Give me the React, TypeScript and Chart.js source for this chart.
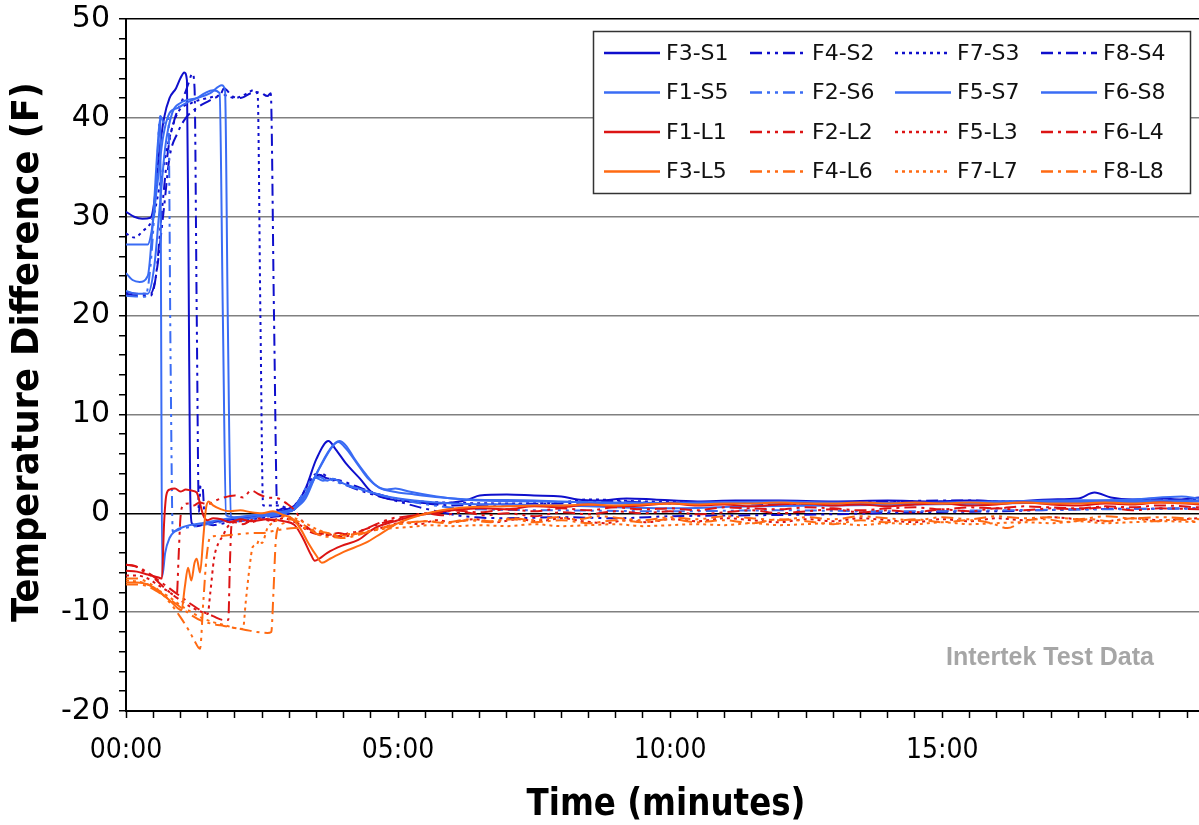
import { useEffect, useRef } from 'react';
import { Chart, registerables } from 'chart.js';

Chart.register(...registerables);

// Each series: time in minutes, temperature difference in °F, as [t, v, t, v, ...]
const F3_S1 = [0, 30.5, 0.15, 30.0, 0.3, 29.8, 0.45, 29.9, 0.52, 31.5, 0.6, 36, 0.7, 40, 0.8, 42, 0.92, 43, 1.0, 44, 1.07, 44.6, 1.12, 43.8, 1.15, 25, 1.18, 2, 1.21, -1.0, 1.3, -1.3, 1.5, -1.0, 1.7, -0.8, 2.0, -0.6, 2.5, -0.2, 2.9, 0.3, 3.1, 0.8, 3.3, 2.5, 3.5, 5.5, 3.72, 7.3, 3.85, 6.5, 4.05, 5.0, 4.3, 3.5, 4.5, 2.2, 4.8, 1.5, 5.2, 1.2, 5.6, 1.0, 6.0, 1.1, 6.3, 1.4, 6.5, 1.8, 7.0, 1.9, 7.5, 1.8, 8.0, 1.7, 8.3, 1.4, 8.7, 1.3, 9.2, 1.5, 9.7, 1.4, 10.5, 1.2, 11.2, 1.3, 12.0, 1.3, 13.0, 1.2, 14.0, 1.3, 14.8, 1.2, 15.5, 1.3, 16.2, 1.2, 17.0, 1.4, 17.5, 1.5, 17.8, 2.1, 18.1, 1.6, 18.5, 1.4, 19.0, 1.5, 19.4, 1.4, 19.72, 1.6];
const F4_S2 = [0, 22.2, 0.2, 22.0, 0.45, 22.0, 0.55, 24, 0.65, 30, 0.78, 37, 0.9, 40, 1.05, 42, 1.15, 43.5, 1.22, 44.5, 1.26, 43, 1.3, 20, 1.34, 0, 1.37, 2.8, 1.41, 2.5, 1.45, -0.8, 1.6, -1.2, 1.8, -1.0, 2.2, -0.7, 2.6, -0.4, 3.0, 0, 3.25, 1.5, 3.45, 3.5, 3.55, 3.9, 3.7, 3.5, 3.9, 3.2, 4.2, 2.5, 4.6, 1.8, 5.0, 1.2, 5.4, 0.6, 5.8, 0.1, 6.2, -0.3, 7.0, -0.5, 8.0, -0.4, 9.0, -0.5, 10.0, -0.3, 11.5, -0.2, 13.0, -0.1, 14.5, 0.1, 16.0, 0.2, 17.5, 0.4, 19.72, 0.5];
const F7_S3 = [0, 28.3, 0.15, 27.9, 0.3, 28.5, 0.5, 30, 0.65, 34, 0.8, 38, 0.95, 40.5, 1.2, 41.5, 1.5, 42, 1.8, 42.3, 2.0, 42.0, 2.2, 42.4, 2.35, 42.8, 2.42, 42.3, 2.47, 20, 2.52, 0.8, 2.8, 0.8, 3.0, 0.5, 3.2, 1.5, 3.35, 3.0, 3.5, 4.0, 3.65, 3.6, 3.85, 3.4, 4.0, 3.0, 4.3, 2.5, 4.7, 1.8, 5.2, 1.3, 5.8, 1.1, 7.0, 1.0, 8.0, 1.1, 8.5, 1.4, 9.5, 1.2, 11.0, 1.1, 12.5, 1.0, 14.0, 1.1, 16.0, 1.2, 18.0, 1.1, 19.72, 1.3];
const F8_S4 = [0, 22.4, 0.2, 22.2, 0.45, 22.2, 0.55, 24, 0.7, 31, 0.8, 36, 0.95, 38.5, 1.1, 40, 1.3, 41, 1.55, 41.8, 1.75, 42.5, 1.8, 43.0, 1.95, 42.2, 2.1, 42.0, 2.3, 42.5, 2.45, 42.6, 2.6, 42.2, 2.66, 42.5, 2.72, 20, 2.78, 0.3, 2.9, 0.5, 3.0, 0.3, 3.2, 1.0, 3.35, 2.5, 3.5, 3.8, 3.6, 4.0, 3.75, 3.5, 3.95, 3.3, 4.2, 2.8, 4.6, 2.0, 5.0, 1.4, 5.5, 1.0, 6.0, 0.8, 7.0, 0.9, 8.0, 1.0, 9.0, 1.2, 10.0, 1.0, 11.0, 1.1, 12.0, 0.9, 13.0, 1.0, 14.0, 1.2, 15.5, 1.3, 16.5, 1.1, 18.0, 1.2, 19.72, 1.4];
const F1_S5 = [0, 24.3, 0.12, 23.6, 0.25, 23.4, 0.4, 24, 0.5, 30, 0.58, 37, 0.63, 40, 0.645, 20, 0.665, -6.4, 0.72, -4, 0.8, -2.5, 0.9, -1.8, 1.1, -1.3, 1.4, -1.0, 1.8, -0.6, 2.2, -0.3, 2.6, 0, 2.9, 0.2, 3.1, 0.5, 3.3, 1.5, 3.5, 4.0, 3.75, 6.5, 3.92, 7.3, 4.05, 6.8, 4.2, 5.5, 4.4, 4.0, 4.6, 2.8, 4.8, 2.4, 4.95, 2.5, 5.2, 2.2, 5.6, 1.8, 6.0, 1.5, 6.5, 1.3, 7.5, 1.2, 9.0, 1.1, 11.0, 1.0, 13.0, 1.1, 15.0, 1.0, 17.0, 1.2, 19.72, 1.3];
const F2_S6 = [0, 22.0, 0.35, 21.9, 0.45, 25, 0.55, 33, 0.63, 40.2, 0.7, 39.5, 0.78, 40, 0.82, 15, 0.86, -1.9, 1.0, -1.6, 1.3, -1.3, 1.6, -1.0, 2.0, -0.8, 2.4, -0.5, 2.8, -0.2, 3.0, 0, 3.2, 1.5, 3.35, 3.0, 3.48, 3.6, 3.62, 3.3, 3.75, 3.4, 3.95, 3.0, 4.3, 2.4, 4.7, 1.8, 5.2, 1.2, 5.8, 0.7, 6.5, 0.4, 8.0, 0.3, 10.0, 0.2, 12.0, 0.3, 14.0, 0.2, 16.0, 0.3, 18.0, 0.4, 19.72, 0.5];
const F5_S7 = [0, 27.2, 0.4, 27.2, 0.47, 28.5, 0.57, 33, 0.68, 38, 0.8, 40.5, 0.95, 41, 1.1, 41.5, 1.3, 42, 1.45, 42.5, 1.6, 42.8, 1.72, 42.5, 1.78, 20, 1.84, -0.2, 2.0, -0.4, 2.4, -0.2, 2.8, 0, 3.0, 0.3, 3.2, 1.2, 3.35, 2.5, 3.45, 3.5, 3.55, 3.7, 3.7, 3.3, 3.8, 3.5, 4.0, 3.0, 4.4, 2.3, 4.8, 1.7, 5.3, 1.3, 6.0, 1.0, 7.0, 0.9, 8.0, 0.8, 9.0, 0.6, 10.0, 0.5, 11.5, 0.7, 13.0, 0.8, 14.5, 0.9, 16.0, 1.0, 17.5, 1.1, 19.72, 1.2];
const F6_S8 = [0, 22.5, 0.2, 22.2, 0.4, 22.2, 0.52, 25, 0.62, 31, 0.72, 37, 0.85, 40.5, 1.0, 41.5, 1.3, 42, 1.55, 42.5, 1.76, 43.3, 1.82, 42.8, 1.87, 20, 1.93, -0.3, 2.1, -0.6, 2.5, -0.3, 2.9, 0, 3.1, 0.4, 3.3, 1.8, 3.55, 4.5, 3.8, 6.8, 3.9, 7.2, 4.05, 6.5, 4.25, 5.0, 4.45, 3.5, 4.65, 2.6, 4.9, 2.2, 5.3, 1.9, 5.8, 1.6, 6.3, 1.4, 7.5, 1.3, 9.0, 1.0, 10.5, 1.1, 12.0, 1.2, 13.5, 1.0, 15.0, 1.1, 17.0, 1.3, 18.5, 1.4, 19.4, 1.7, 19.72, 1.5];

const F1_L1 = [0, -5.8, 0.2, -5.9, 0.4, -6.2, 0.6, -6.5, 0.66, -6.6, 0.7, -1, 0.74, 1.8, 0.8, 2.4, 0.9, 2.5, 1.0, 2.2, 1.1, 2.4, 1.2, 2.3, 1.3, 2.1, 1.36, 1.0, 1.42, -0.2, 1.5, -0.7, 1.6, -0.5, 1.75, -0.6, 1.9, -0.9, 2.1, -0.6, 2.3, -0.8, 2.6, -0.6, 2.9, -0.8, 3.1, -1.2, 3.25, -2.5, 3.4, -4.2, 3.47, -4.8, 3.55, -4.6, 3.7, -4.0, 3.96, -3.3, 4.27, -2.7, 4.57, -1.5, 4.94, -0.8, 5.3, -0.3, 5.7, 0.1, 6.0, 0.3, 6.5, 0.5, 7.0, 0.4, 7.5, 0.7, 8.0, 0.6, 8.5, 0.9, 9.0, 0.7, 9.5, 0.8, 10.0, 1.0, 10.5, 0.8, 11.0, 0.9, 11.5, 0.7, 12.0, 0.9, 12.5, 1.0, 13.0, 0.8, 13.5, 0.9, 14.0, 0.7, 14.5, 0.9, 15.0, 1.0, 15.5, 0.8, 16.0, 0.9, 16.5, 1.1, 17.0, 0.9, 17.5, 0.8, 18.0, 1.0, 18.5, 0.9, 19.0, 1.1, 19.72, 0.9];
const F2_L2 = [0, -5.2, 0.15, -5.3, 0.3, -5.8, 0.5, -6.5, 0.7, -7.5, 0.85, -8.2, 0.93, -8.5, 0.97, -4, 1.0, -0.5, 1.05, 0.8, 1.15, 1.0, 1.25, 0.8, 1.35, 1.1, 1.5, 0.9, 1.65, 1.3, 1.8, 1.6, 2.0, 1.8, 2.15, 1.6, 2.3, 2.3, 2.45, 1.9, 2.6, 1.6, 2.8, 1.5, 2.95, 1.0, 3.1, 0.3, 3.2, -0.5, 3.35, -1.5, 3.5, -2.0, 3.7, -2.1, 3.9, -2.3, 4.1, -2.0, 4.3, -1.8, 4.6, -1.1, 4.9, -0.5, 5.2, -0.3, 5.5, 0, 5.8, -0.2, 6.2, 0.1, 6.6, -0.2, 7.0, 0, 7.5, -0.3, 8.0, 0.1, 8.5, -0.1, 9.0, 0.2, 9.5, 0, 10.0, 0.2, 10.5, -0.1, 11.0, 0.1, 11.5, 0.3, 12.0, 0, 12.5, 0.2, 13.0, 0.4, 13.5, 0.1, 14.0, 0.3, 14.5, 0.1, 15.0, 0.4, 15.5, 0.2, 16.0, 0.5, 16.5, 0.3, 17.0, 0.5, 17.5, 0.4, 18.0, 0.6, 18.5, 0.3, 19.0, 0.5, 19.72, 0.4];
const F5_L3 = [0, -6.3, 0.2, -6.3, 0.4, -6.6, 0.6, -7.3, 0.8, -8.0, 1.0, -8.8, 1.2, -9.5, 1.4, -10.0, 1.5, -10.2, 1.55, -8, 1.62, -4.5, 1.7, -3.0, 1.78, -2.3, 1.85, -1.5, 1.95, -1.0, 2.1, -0.8, 2.3, -0.9, 2.5, -0.6, 2.7, -0.8, 2.9, -0.5, 3.1, -0.9, 3.3, -1.5, 3.5, -1.9, 3.7, -2.2, 3.95, -2.4, 4.2, -2.1, 4.5, -1.8, 4.8, -1.3, 5.1, -0.9, 5.4, -1.1, 5.7, -0.7, 6.0, -0.9, 6.4, -0.6, 6.8, -0.9, 7.2, -0.6, 7.6, -0.8, 8.0, -0.5, 8.4, -0.8, 8.8, -1.0, 9.2, -0.7, 9.6, -0.9, 10.0, -0.6, 10.5, -0.8, 11.0, -0.5, 11.5, -0.7, 12.0, -0.9, 12.5, -0.6, 13.0, -0.8, 13.5, -0.5, 14.0, -0.7, 14.5, -0.9, 15.0, -0.6, 15.5, -0.8, 16.0, -0.5, 16.5, -0.7, 17.0, -0.4, 17.5, -0.6, 18.0, -0.8, 18.5, -0.5, 19.0, -0.7, 19.72, -0.5];
const F6_L4 = [0, -5.2, 0.2, -5.4, 0.4, -6.0, 0.6, -6.8, 0.8, -7.6, 1.0, -8.4, 1.2, -9.2, 1.4, -9.9, 1.6, -10.4, 1.8, -10.8, 1.88, -10.8, 1.91, -5, 1.94, -1.2, 2.0, -0.9, 2.15, -1.1, 2.3, -0.7, 2.5, -0.5, 2.7, -0.7, 2.9, -0.3, 3.05, -0.6, 3.2, -1.2, 3.35, -1.8, 3.5, -2.1, 3.7, -2.2, 3.9, -2.0, 4.1, -2.2, 4.4, -1.6, 4.7, -1.0, 5.0, -0.6, 5.3, -0.2, 5.7, 0.0, 6.0, 0.3, 6.5, 0.1, 7.0, 0.4, 7.5, 0.2, 8.0, 0.5, 8.5, 0.3, 9.0, 0.6, 9.5, 0.4, 10.0, 0.5, 10.5, 0.3, 11.0, 0.6, 11.5, 0.5, 12.0, 0.4, 12.5, 0.6, 13.0, 0.5, 13.5, 0.3, 14.0, 0.5, 14.5, 0.6, 15.0, 0.4, 15.5, 0.6, 16.0, 0.5, 16.5, 0.7, 17.0, 0.6, 17.5, 0.5, 18.0, 0.7, 18.5, 0.6, 19.0, 0.8, 19.72, 0.6];
const F3_L5 = [0, -7.0, 0.2, -7.0, 0.4, -7.2, 0.6, -7.9, 0.8, -8.8, 0.95, -9.6, 1.02, -9.8, 1.08, -7.5, 1.14, -5.5, 1.2, -6.8, 1.26, -5.0, 1.3, -4.6, 1.36, -6.0, 1.42, -2.5, 1.47, 0.5, 1.52, 1.2, 1.6, 0.8, 1.75, 0.4, 1.9, 0.2, 2.1, 0.3, 2.3, 0.1, 2.5, 0, 2.7, 0.2, 2.9, -0.2, 3.05, -0.5, 3.2, -1.5, 3.35, -3.0, 3.5, -4.3, 3.6, -5.0, 3.75, -4.6, 4.0, -3.9, 4.4, -3.0, 4.7, -2.0, 5.0, -1.0, 5.4, -0.2, 5.8, 0.3, 6.3, 0.6, 7.0, 0.7, 7.5, 0.8, 8.0, 0.8, 8.5, 0.9, 9.0, 0.8, 9.5, 0.9, 10.0, 1.0, 10.5, 0.9, 11.0, 1.0, 11.5, 1.0, 12.0, 1.1, 12.5, 1.0, 13.0, 1.0, 13.5, 1.1, 14.0, 1.0, 14.5, 1.1, 15.0, 1.0, 15.5, 1.1, 16.0, 1.0, 16.5, 1.1, 17.0, 1.0, 17.5, 1.0, 18.0, 1.1, 18.5, 1.0, 19.0, 1.1, 19.72, 1.0];
const F4_L6 = [0, -6.6, 0.2, -6.6, 0.4, -7.0, 0.6, -7.8, 0.8, -9.0, 1.0, -10.5, 1.15, -11.8, 1.25, -12.8, 1.36, -13.7, 1.42, -9.0, 1.48, -4.5, 1.55, -2.4, 1.7, -2.3, 1.9, -2.2, 2.1, -2.1, 2.3, -2.0, 2.5, -2.0, 2.7, -1.8, 2.9, -1.6, 3.1, -1.5, 3.3, -1.5, 3.5, -1.8, 3.7, -2.0, 3.9, -2.3, 4.1, -2.2, 4.3, -2.0, 4.6, -1.6, 4.9, -1.2, 5.2, -1.0, 5.5, -0.8, 5.9, -0.9, 6.3, -0.6, 6.7, -0.8, 7.1, -0.5, 7.5, -0.7, 7.9, -0.4, 8.3, -0.6, 8.7, -0.3, 9.1, -0.5, 9.5, -0.7, 10.0, -0.4, 10.5, -0.6, 11.0, -0.3, 11.5, -0.5, 12.0, -0.7, 12.5, -0.4, 13.0, -0.6, 13.5, -0.3, 14.0, -0.5, 14.5, -0.7, 15.0, -0.4, 15.5, -0.6, 16.0, -0.3, 16.5, -0.5, 17.0, -0.4, 17.5, -0.6, 18.0, -0.3, 18.5, -0.5, 19.0, -0.4, 19.72, -0.6];
const F7_L7 = [0, -6.8, 0.2, -6.9, 0.4, -7.2, 0.6, -7.8, 0.8, -8.5, 1.0, -9.3, 1.2, -10.0, 1.4, -10.6, 1.6, -11.0, 1.8, -11.3, 2.0, -11.6, 2.15, -11.7, 2.2, -9.0, 2.27, -5.5, 2.33, -3.4, 2.4, -3.2, 2.45, -2.7, 2.5, -3.0, 2.6, -1.5, 2.75, -0.8, 2.9, -0.3, 3.1, -0.5, 3.3, -1.0, 3.5, -1.6, 3.7, -2.0, 3.9, -2.2, 4.1, -2.1, 4.3, -2.0, 4.7, -1.6, 5.2, -1.4, 5.6, -1.2, 6.0, -1.3, 6.5, -1.2, 7.0, -1.3, 7.5, -1.1, 8.0, -1.3, 8.5, -1.2, 9.0, -1.1, 9.5, -1.3, 10.0, -1.2, 10.5, -1.1, 11.0, -1.2, 11.5, -1.0, 12.0, -1.2, 12.5, -1.1, 13.0, -1.0, 13.5, -1.2, 14.0, -1.0, 14.5, -1.1, 15.0, -0.9, 15.5, -1.1, 16.0, -1.0, 16.5, -0.9, 17.0, -1.0, 17.5, -0.8, 18.0, -1.0, 18.5, -0.9, 19.0, -0.8, 19.72, -0.9];
const F8_L8 = [0, -7.2, 0.2, -7.2, 0.4, -7.4, 0.6, -8.0, 0.8, -8.7, 1.0, -9.5, 1.2, -10.3, 1.4, -10.9, 1.6, -11.2, 1.8, -11.4, 2.0, -11.6, 2.2, -11.8, 2.4, -12.0, 2.6, -12.1, 2.67, -12.0, 2.71, -8.0, 2.75, -3.0, 2.8, -1.4, 2.9, -1.0, 3.0, -0.6, 3.15, -0.8, 3.3, -1.3, 3.45, -1.9, 3.6, -2.3, 3.8, -2.4, 4.0, -2.5, 4.2, -2.3, 4.5, -1.8, 4.8, -1.4, 5.1, -1.0, 5.5, -0.8, 5.9, -1.0, 6.3, -0.7, 6.7, -0.9, 7.1, -0.6, 7.5, -0.9, 8.0, -0.7, 8.5, -1.0, 9.0, -0.7, 9.5, -0.9, 10.0, -0.6, 10.5, -0.9, 11.0, -0.7, 11.5, -1.0, 12.0, -0.6, 12.5, -0.8, 13.0, -1.1, 13.5, -0.7, 14.0, -0.9, 14.5, -0.6, 15.0, -0.9, 15.5, -0.7, 15.9, -1.0, 16.2, -1.5, 16.5, -0.8, 16.9, -0.6, 17.3, -0.9, 17.7, -0.6, 18.1, -0.8, 18.5, -0.5, 18.9, -0.8, 19.3, -0.6, 19.72, -0.9];

const seriesNames = ['F3-S1', 'F4-S2', 'F7-S3', 'F8-S4', 'F1-S5', 'F2-S6', 'F5-S7', 'F6-S8', 'F1-L1', 'F2-L2', 'F5-L3', 'F6-L4', 'F3-L5', 'F4-L6', 'F7-L7', 'F8-L8'];
const seriesValues = [F3_S1, F4_S2, F7_S3, F8_S4, F1_S5, F2_S6, F5_S7, F6_S8, F1_L1, F2_L2, F5_L3, F6_L4, F3_L5, F4_L6, F7_L7, F8_L8];

const xTickValues = [0, 5, 10, 15];
const xTickLabels = ['00:00', '05:00', '10:00', '15:00'];
const X_MAX = 19.72;
const Y_MIN = -20;
const Y_MAX = 50;

// Line styles
const DARK_BLUE = '#0f0fcc';
const LIGHT_BLUE = '#3a6cf4';
const RED = '#dc1414';
const ORANGE = '#ff6a12';
const SOLID: number[] = [];
const DASH_DOT_DOT = [12, 5, 3, 5, 3, 5];
const DOTTED = [3, 4];
const DASH_DOT = [12, 5, 3, 5];

const seriesColors = [DARK_BLUE, DARK_BLUE, DARK_BLUE, DARK_BLUE, LIGHT_BLUE, LIGHT_BLUE, LIGHT_BLUE, LIGHT_BLUE, RED, RED, RED, RED, ORANGE, ORANGE, ORANGE, ORANGE];
const seriesDashes = [SOLID, DASH_DOT_DOT, DOTTED, DASH_DOT, SOLID, DASH_DOT_DOT, SOLID, SOLID, SOLID, DASH_DOT_DOT, DOTTED, DASH_DOT, SOLID, DASH_DOT_DOT, DOTTED, DASH_DOT];

const W = 1199;
const H = 825;

function toPoints(flat: number[]) {
  const pts: { x: number; y: number }[] = [];
  for (let i = 0; i < flat.length; i += 2) pts.push({ x: flat[i], y: flat[i + 1] });
  return pts;
}

function drawFittedText(ctx: CanvasRenderingContext2D, text: string, cx: number, cy: number, width: number, vertical: boolean) {
  ctx.save();
  ctx.translate(cx, cy);
  if (vertical) ctx.rotate(-Math.PI / 2);
  const w = ctx.measureText(text).width;
  ctx.scale(width / w, 1);
  ctx.fillText(text, 0, 0);
  ctx.restore();
}

// Axis titles and the data-source note
const titlePlugin = {
  id: 'axisTitles',
  afterDraw(chart: Chart) {
    const ctx = chart.ctx;
    ctx.save();
    ctx.fillStyle = '#000';
    ctx.textAlign = 'center';
    ctx.textBaseline = 'middle';
    ctx.font = 'bold 37px "DejaVu Sans"';
    drawFittedText(ctx, 'Temperature Difference (F)', 28, 352, 540, true);
    drawFittedText(ctx, 'Time (minutes)', 666, 805, 279, false);
    ctx.restore();
  },
  afterDatasetsDraw(chart: Chart) {
    const ctx = chart.ctx;
    ctx.save();
    ctx.fillStyle = '#a6a6a6';
    ctx.textAlign = 'center';
    ctx.textBaseline = 'middle';
    ctx.font = 'bold 25px "Liberation Sans", Arial';
    ctx.fillText('Intertek Test Data', 1050, 658);
    ctx.restore();
  },
};

// Boxed four-column legend inside the plot
const legendCols = [604, 750, 895, 1041];
const legendRows = [53, 92.5, 132, 171.5];
const legendPlugin = {
  id: 'boxLegend',
  afterDatasetsDraw(chart: Chart) {
    const ctx = chart.ctx;
    ctx.save();
    ctx.fillStyle = '#fff';
    ctx.fillRect(593.5, 31.5, 597, 162);
    ctx.strokeStyle = '#333';
    ctx.lineWidth = 1.5;
    ctx.strokeRect(593.5, 31.5, 597, 162);
    chart.data.datasets.forEach((ds: any, i: number) => {
      const x = legendCols[i % 4];
      const y = legendRows[Math.floor(i / 4)];
      ctx.setLineDash(ds.borderDash || []);
      ctx.strokeStyle = ds.borderColor;
      ctx.lineWidth = 2.5;
      ctx.beginPath();
      ctx.moveTo(x, y);
      ctx.lineTo(x + 56, y);
      ctx.stroke();
      ctx.setLineDash([]);
      ctx.fillStyle = '#111';
      ctx.font = '22px "DejaVu Sans"';
      ctx.textAlign = 'left';
      ctx.textBaseline = 'middle';
      ctx.fillText(ds.label, x + 62, y + 1);
    });
    ctx.restore();
  },
};

export default function App() {
  const canvasRef = useRef<HTMLCanvasElement>(null);

  useEffect(() => {
    const canvas = canvasRef.current;
    if (!canvas) return;
    const n = seriesNames.length;
    const datasets = seriesNames.map((name, i) => ({
      label: name,
      data: toPoints(seriesValues[i]),
      borderColor: seriesColors[i],
      backgroundColor: seriesColors[i],
      borderDash: seriesDashes[i],
      borderWidth: 2,
      pointRadius: 0,
      pointHoverRadius: 0,
      fill: false,
      cubicInterpolationMode: 'monotone' as const,
      order: n - i,
    }));

    const chart = new Chart(canvas, {
      type: 'line',
      data: { datasets },
      options: {
        animation: false,
        responsive: false,
        devicePixelRatio: 1,
        events: [],
        layout: { padding: { top: 19, right: 0, bottom: 0, left: 0 } },
        plugins: {
          legend: { display: false },
          tooltip: { enabled: false },
          title: { display: false },
        },
        scales: {
          x: {
            type: 'linear',
            min: 0,
            max: X_MAX,
            afterFit: (s: any) => {
              s.height = 114;
              s.paddingLeft = 0;
              s.paddingRight = 0;
            },
            border: { display: true, color: '#000', width: 2 },
            grid: {
              drawOnChartArea: false,
              drawTicks: true,
              tickLength: 7,
              tickColor: '#000',
              tickWidth: 1.5,
            },
            ticks: {
              stepSize: 0.5,
              autoSkip: false,
              includeBounds: false,
              maxRotation: 0,
              minRotation: 0,
              padding: 16,
              color: '#000',
              font: { family: "'DejaVu Sans Condensed', 'DejaVu Sans'", size: 28 },
              callback: (value: any) => {
                const v = Number(value);
                const k = xTickValues.findIndex((t) => Math.abs(t - v) < 1e-6);
                return k >= 0 ? xTickLabels[k] : '';
              },
            },
          },
          y: {
            type: 'linear',
            min: Y_MIN,
            max: Y_MAX,
            afterFit: (s: any) => {
              s.width = 126;
              s.paddingTop = 0;
              s.paddingBottom = 0;
            },
            border: { display: true, color: '#000', width: 2 },
            grid: {
              drawOnChartArea: true,
              drawTicks: true,
              tickLength: 7,
              tickColor: '#000',
              tickWidth: 1.5,
              color: (c: any) => {
                const v = c.tick ? c.tick.value : NaN;
                if (v === 0 || v === Y_MAX || v === Y_MIN) return '#000';
                return v % 10 === 0 ? '#808080' : 'rgba(0,0,0,0)';
              },
              lineWidth: 1.5,
            },
            ticks: {
              stepSize: 2,
              autoSkip: false,
              padding: 9,
              color: '#000',
              font: { family: "'DejaVu Sans'", size: 30 },
              callback: (value: any) => (Number(value) % 10 === 0 ? String(value) : ''),
            },
          },
        },
      },
      plugins: [legendPlugin, titlePlugin],
    });

    return () => chart.destroy();
  }, []);

  return (
    <div style={{ position: 'fixed', left: 0, top: 0, width: W, height: H, background: '#fff' }}>
      <canvas ref={canvasRef} width={W} height={H} style={{ width: W, height: H, display: 'block' }} />
    </div>
  );
}
